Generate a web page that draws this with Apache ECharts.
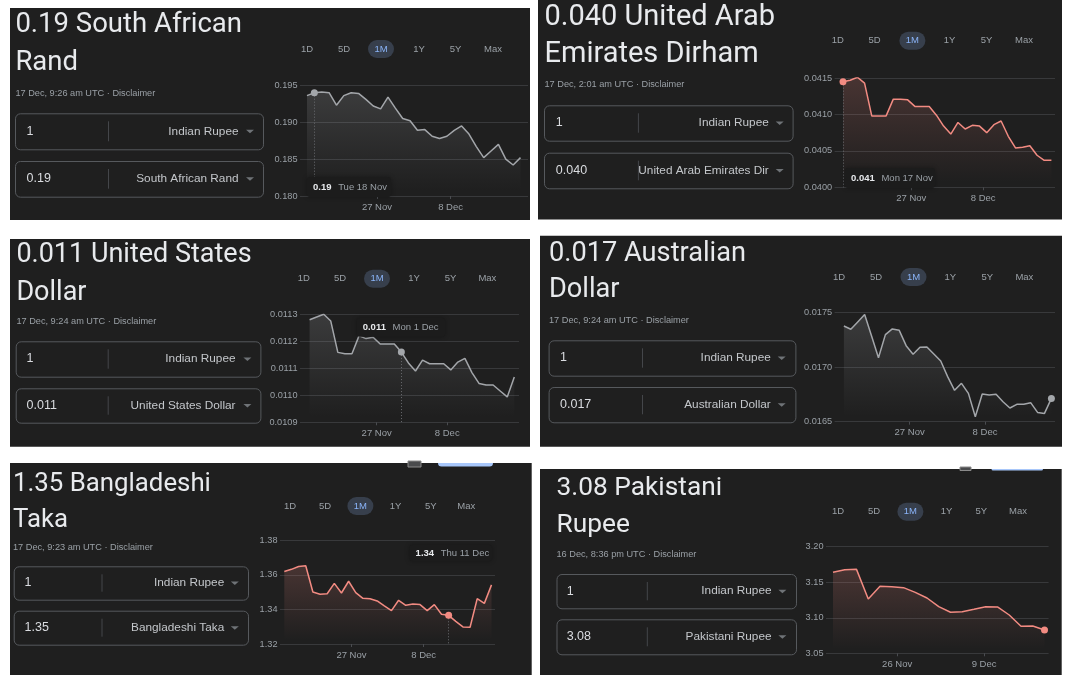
<!DOCTYPE html>
<html><head><meta charset="utf-8">
<style>html,body{margin:0;padding:0;background:#fff}#c{width:1072px;height:678px}</style>
<script src="https://cdn.jsdelivr.net/npm/echarts@6/dist/echarts.min.js"></script>
</head><body><div id="c"></div>
<script>
const randValues=[.1936,.1940,.1941,.1940,.1923,.1936,.1940,.1939,.1931,.1922,.1918,.1934,.1919,.1905,.1902,.1889,.1890,.1881,.1878,.1881,.1889,.1895,.1884,.1867,.1852,.1861,.1870,.1850,.1842,.1852];
const aedValues=[.04145,.04147,.04151,.04143,.04098,.04098,.04098,.04121,.04121,.04120,.04111,.04111,.04111,.04099,.04084,.04073,.04089,.04080,.04085,.04084,.04075,.04086,.04091,.04070,.04054,.04055,.04057,.04044,.04037,.04037];
const usdValues=[.01128,.01129,.01130,.011275,.011159,.011154,.011154,.01122,.01121,.011215,.01119,.01119,.01119,.01116,.01112,.01109,.01113,.011117,.011117,.011117,.011094,.011123,.011137,.011084,.011044,.011038,.011038,.011016,.010994,.011068];
const audValues=[.017375,.017345,.017412,.017479,.017284,.017085,.017296,.017348,.017335,.017195,.017116,.01718,.017183,.017119,.017055,.016912,.016787,.016851,.016759,.016546,.016753,.016744,.01675,.016683,.016625,.016659,.016659,.016674,.016585,.016576,.016713];
const bdtValues=[1.3619,1.3632,1.3648,1.3653,1.3501,1.3488,1.3491,1.3551,1.3495,1.3563,1.3497,1.3464,1.3462,1.3449,1.342,1.3393,1.3453,1.3424,1.3432,1.3428,1.3393,1.3428,1.3372,1.3366,1.3331,1.3299,1.3297,1.3462,1.3435,1.3542];
const pkrValues=[3.1639,3.1677,3.1681,3.1264,3.1442,3.1438,3.1424,3.1358,3.1278,3.1156,3.1077,3.1086,3.1119,3.1156,3.1152,3.1039,3.088,3.0885,3.0828];
const rangeLabels=['1D','5D','1M','1Y','5Y','Max'];
const fromLabel='Indian Rupee';
const xTicksA=['27 Nov','8 Dec'];
const xTicksB=['26 Nov','9 Dec'];

const GRAY='#a3a6aa', RED='#f28b82';
const panels=[
 {title:['0.19 South African','Rand'],stamp:'17 Dec, 9:26 am UTC · Disclaimer',amount:'0.19',to:'South African Rand',values:randValues,
  yMin:.18,yMax:.195,yStep:.005,dec:3,xLabels:xTicksA,xAt:[9.5,19.5],color:GRAY,mark:1,
  rect:[10,8,530,220],grid:[300,85.3,528,196],data:[307,520.5],tx:15.4,ty:[25,63],fs:27.5,sub:93,box:[15,263],by:[113.3,149.3,161,196.7],div:108.5,vx:26.6,rt:238.5,car:250,ry:49,rx:[307,344,381,419,455.6,493],
  tip:{v:'0.19',d:'Tue 18 Nov',box:[307,177,391,197]}},
 {title:['0.040 United Arab','Emirates Dirham'],stamp:'17 Dec, 2:01 am UTC · Disclaimer',amount:'0.040',to:'United Arab Emirates Dir',values:aedValues,
  yMin:.04,yMax:.0415,yStep:.0005,dec:4,xLabels:xTicksA,xAt:[9.5,19.5],color:RED,mark:0,
  rect:[538,0,1062,219.5],grid:[834.6,78,1055,187.3],data:[843,1051.4],tx:544.5,ty:[18,54.7],fs:29,sub:84.7,box:[544,792.6],by:[105.3,140.7,152.7,188.3],div:638.4,vx:555.8,rt:768.8,car:779.7,ry:40.7,rx:[837.7,874.6,912.4,949.6,986.5,1024],
  tip:{v:'0.041',d:'Mon 17 Nov',box:[845,168,935,188]}},
 {title:['0.011 United States','Dollar'],stamp:'17 Dec, 9:24 am UTC · Disclaimer',amount:'0.011',to:'United States Dollar',values:usdValues,
  yMin:.0109,yMax:.0113,yStep:.0001,dec:4,xLabels:xTicksA,xAt:[9.5,19.5],color:GRAY,mark:13,
  rect:[10,239,530,446.7],grid:[300,314.3,519,422.3],data:[309.6,514.3],tx:16.4,ty:[255.7,293],fs:27,sub:321.7,box:[15.7,260.4],by:[341.3,376.7,388.3,422.7],div:108.2,vx:26.6,rt:235.5,car:247.4,ry:278.7,rx:[303.8,340,377,414,450.5,487.4],
  tip:{v:'0.011',d:'Mon 1 Dec',box:[356.7,318,445,336.7]}},
 {title:['0.017 Australian','Dollar'],stamp:'17 Dec, 9:24 am UTC · Disclaimer',amount:'0.017',to:'Australian Dollar',values:audValues,
  yMin:.0165,yMax:.0175,yStep:.0005,dec:4,xLabels:xTicksA,xAt:[9.5,20.4],color:GRAY,mark:30,
  rect:[540,235.7,1062,446.7],grid:[834.6,312.3,1055,421.7],data:[843.9,1051.4],tx:549,ty:[253.7,290.3],fs:27.2,sub:320.3,box:[548.6,795.4],by:[340.3,375.7,387,422.3],div:642.5,vx:560,rt:770.8,car:781.7,ry:277,rx:[839,876,913.5,950.3,987.2,1024.4]},
 {title:['1.35 Bangladeshi','Taka'],stamp:'17 Dec, 9:23 am UTC · Disclaimer',amount:'1.35',to:'Bangladeshi Taka',values:bdtValues,
  yMin:1.32,yMax:1.38,yStep:.02,dec:2,xLabels:xTicksA,xAt:[9.4,19.5],color:RED,mark:23,
  rect:[10,463,531.7,675],grid:[280,540.3,495,644],data:[284.3,491.5],tx:13,ty:[484.5,520.5],fs:25.8,sub:547.3,box:[13.7,248],by:[566.3,599.7,610.7,644.7],div:102,vx:24.6,rt:224.2,car:234.8,ry:506,rx:[290,325,360.4,395.6,430.7,466.2],
  tip:{v:'1.34',d:'Thu 11 Dec',box:[409.6,545,492,561]},deco:[408,421,438,493,3.5,4]},
 {title:['3.08 Pakistani','Rupee'],stamp:'16 Dec, 8:36 pm UTC · Disclaimer',amount:'3.08',to:'Pakistani Rupee',values:pkrValues,
  yMin:3.05,yMax:3.2,yStep:.05,dec:2,xLabels:xTicksB,xAt:[5.46,12.86],color:RED,mark:18,
  rect:[540,469,1061.7,675],grid:[826,546.7,1048.6,653.3],data:[833,1044.5],tx:556.5,ty:[488.5,525.5],fs:26.3,sub:554.3,box:[556.5,796],by:[574,608.3,619.3,654.3],div:647.3,vx:566.7,rt:771.5,car:782.4,ry:511.7,rx:[838,874,910.4,946.6,981.4,1018],deco:[960,971,991.5,1043,1.5,1.5]}
];

const TF='Roboto, sans-serif', LF='"Liberation Sans", Arial, sans-serif';
const grids=[],xAxes=[],yAxes=[],series=[],gfx=[];
function T(x,y,text,size,fill,align){return {type:'text',x,y,z:1,silent:true,style:{text,fontSize:size,fill,align:align||'left',verticalAlign:'middle',fontFamily:LF}};}
panels.forEach((p,i)=>{
  const [gl,gt,gr,gb]=p.grid,[dl,dr]=p.data,n=p.values.length,sp=(dr-dl)/(n-1);
  grids.push({left:gl,top:gt,width:gr-gl,height:gb-gt,containLabel:false});
  xAxes.push({gridIndex:i,type:'value',min:(gl-dl)/sp,max:n-1+(gr-dr)/sp,splitLine:{show:false},
    axisLine:{show:false},
    axisTick:{show:true,length:3,customValues:p.xAt,lineStyle:{color:'#4a4c50'}},
    axisLabel:{show:true,customValues:p.xAt,margin:6,fontSize:9.5,color:'#9aa0a6',fontFamily:LF,formatter:v=>{const k=p.xAt.findIndex(a=>Math.abs(a-v)<1e-6);return k>=0?p.xLabels[k]:'';}}});
  yAxes.push({gridIndex:i,type:'value',min:p.yMin,max:p.yMax,interval:p.yStep,axisLine:{show:false},axisTick:{show:false},
    splitLine:{show:true,lineStyle:{color:'#38393b',width:1}},
    axisLabel:{margin:2.5,fontSize:9.2,color:'#9aa0a6',fontFamily:LF,formatter:v=>v.toFixed(p.dec)}});
  const rgb=p.color===RED?'242,139,130':'190,192,196';
  const mv=p.values[p.mark];
  series.push({type:'line',xAxisIndex:i,yAxisIndex:i,data:p.values.map((v,k)=>[k,v]),showSymbol:false,silent:true,
    lineStyle:{color:p.color,width:1.5},
    areaStyle:{color:{type:'linear',x:0,y:0,x2:0,y2:1,colorStops:[{offset:0,color:`rgba(${rgb},${p.color===RED?.28:.25})`},{offset:.95,color:`rgba(${rgb},0)`}]}},
    markPoint:{silent:true,symbol:'circle',symbolSize:7,animation:false,itemStyle:{color:p.color},label:{show:false},data:[{coord:[p.mark,mv]}]},
    markLine:p.tip?{silent:true,symbol:'none',animation:false,label:{show:false},lineStyle:{color:'#6a6c70',type:[1,2],width:1},data:[[{coord:[p.mark,mv]},{coord:[p.mark,p.yMin]}]]}:undefined,
    animation:false});
  const [x0,y0,x1,y1]=p.rect;
  gfx.push({type:'rect',z:-1,silent:true,shape:{x:x0,y:y0,width:x1-x0,height:y1-y0},style:{fill:'#1f1f1f'}});
  if(p.deco){
    const [ia,ib,pa,pb,ph,ih]=p.deco;
    gfx.push({type:'rect',z:1,silent:true,shape:{x:ia,y:y0-2,width:ib-ia,height:ih+2},style:{fill:'#4a4b4d',stroke:'#8a8a8a',lineWidth:1}});
    gfx.push({type:'rect',z:1,silent:true,shape:{x:pa,y:y0,width:pb-pa,height:ph,r:[0,0,6,6]},style:{fill:'#a8c7fa'}});
  }
  p.title.forEach((t,k)=>gfx.push({type:'text',x:p.tx,y:p.ty[k],z:1,silent:true,style:{text:t,fontSize:p.fs,fill:'#e8eaed',align:'left',verticalAlign:'middle',fontFamily:TF}}));
  gfx.push(T(p.tx,p.sub,p.stamp,9.2,'#9aa0a6'));
  [[p.by[0],p.by[1],'1',fromLabel],[p.by[2],p.by[3],p.amount,p.to]].forEach(([a,b,val,name])=>{
    gfx.push({type:'rect',z:1,silent:true,shape:{x:p.box[0]+.5,y:a+.5,width:p.box[1]-p.box[0],height:b-a,r:5},style:{fill:'none',stroke:'#56595d',lineWidth:1}});
    gfx.push({type:'line',z:1,silent:true,shape:{x1:p.div,y1:a+8,x2:p.div,y2:b-8},style:{stroke:'#44464a',lineWidth:1}});
    const m=(a+b)/2;
    gfx.push(T(p.vx,m,val,12.5,'#dadce0'));
    gfx.push(T(p.rt,m,name,11.8,'#c4c7cb','right'));
    gfx.push({type:'polygon',z:1,silent:true,shape:{points:[[p.car-4,m-1.5],[p.car+4,m-1.5],[p.car,m+2]]},style:{fill:'#6f7377'}});
  });
  rangeLabels.forEach((l,k)=>{
    if(k===2) gfx.push({type:'rect',z:1,silent:true,shape:{x:p.rx[k]-13,y:p.ry-9,width:26,height:18,r:9},style:{fill:'#373f4c'}});
    gfx.push(T(p.rx[k],p.ry,l,9.5,k===2?'#8ab4f8':'#9aa0a6','center'));
  });
  if(p.tip){
    const [a,b,c,d]=p.tip.box;
    gfx.push({type:'rect',z:50,silent:true,shape:{x:a,y:b,width:c-a,height:d-b,r:3},style:{fill:'#1c1c1c',shadowBlur:5,shadowColor:'rgba(0,0,0,.3)'}});
    gfx.push({type:'text',z:51,silent:true,x:a+6,y:(b+d)/2,style:{text:`{v|${p.tip.v}}  {d|${p.tip.d}}`,verticalAlign:'middle',rich:{v:{fontSize:9.5,fontWeight:'bold',fill:'#e8eaed',fontFamily:LF},d:{fontSize:9.5,fill:'#9aa0a6',fontFamily:LF}}}});
  }
});
const chart=echarts.init(document.getElementById('c'),null,{renderer:'canvas'});
chart.setOption({backgroundColor:'#fff',animation:false,grid:grids,xAxis:xAxes,yAxis:yAxes,series,graphic:{elements:gfx}});
</script></body></html>
